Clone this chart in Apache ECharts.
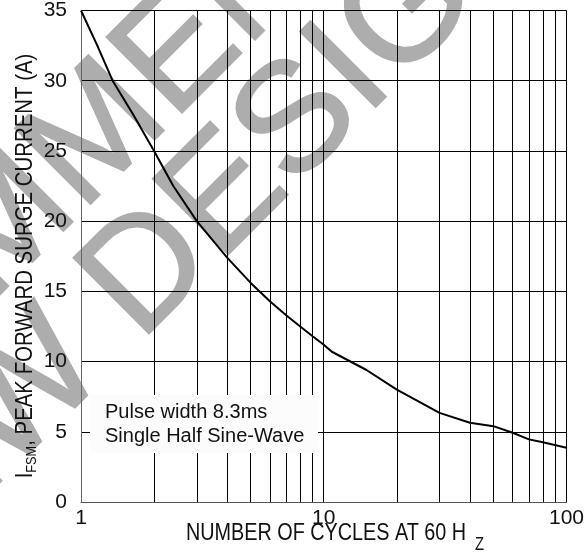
<!DOCTYPE html>
<html>
<head>
<meta charset="utf-8">
<script src="https://cdn.jsdelivr.net/npm/echarts@6/dist/echarts.min.js"></script>
<style>
  html, body { margin: 0; padding: 0; background: #fff; }
  #chart { width: 587px; height: 556px; }
</style>
</head>
<body>
<div id="chart"></div>
<script>
// 浪涌电流 - 周期数
var cycles = [1, 1.16, 1.35, 1.64, 2, 2.4, 3, 4, 5, 6, 7, 8, 9, 10, 10.8, 15, 20, 30, 40, 50, 60, 70, 80, 100]
var surgeCurrent = [35, 32.6, 30, 27.6, 25, 22.5, 20, 17.4, 15.6, 14.3, 13.3, 12.5, 11.8, 11.2, 10.7, 9.4, 8.0, 6.35, 5.64, 5.4, 4.93, 4.46, 4.25, 3.86]
var minorGridX = [2, 3, 4, 5, 6, 7, 8, 9, 20, 30, 40, 50, 60, 70, 80, 90]
var yTicks = { min: 0, max: 35, step: 5 }
var xRange = { min: 1, max: 100 }

var font = "'Liberation Sans', Arial, sans-serif"

function surgeChart () {
  var myChart = echarts.init(document.getElementById('chart'))
  var points = cycles.map(function (c, i) { return [c, surgeCurrent[i]] })
  var watermarkStyle = {
    fontSize: 155, fontFamily: font, fill: '#adadad', stroke: '#adadad', lineWidth: 2,
    align: 'center', verticalAlign: 'middle', textAlign: 'center', textVerticalAlign: 'middle'
  }
  var option = {
    animation: false,
    backgroundColor: '#fff',
    grid: { left: 81, right: 20, top: 10, bottom: 54 },
    xAxis: {
      type: 'log',
      logBase: 10,
      min: xRange.min,
      max: xRange.max,
      axisLine: { show: true, lineStyle: { color: '#555', width: 1 } },
      axisTick: { show: false },
      axisLabel: { margin: 6, color: '#111', fontSize: 21, fontFamily: font },
      splitLine: { show: true, lineStyle: { color: '#000', width: 1 } }
    },
    yAxis: {
      type: 'value',
      min: yTicks.min,
      max: yTicks.max,
      interval: yTicks.step,
      axisLine: { show: true, lineStyle: { color: '#666', width: 1 } },
      axisTick: { show: false },
      axisLabel: { margin: 14, color: '#111', fontSize: 21, fontFamily: font },
      splitLine: { show: true, lineStyle: { color: '#000', width: 1 } }
    },
    series: [
      {
        type: 'line',
        data: points,
        showSymbol: false,
        symbol: 'none',
        smooth: false,
        lineStyle: { color: '#000', width: 2 },
        silent: true,
        z: 5,
        markLine: {
          silent: true,
          symbol: ['none', 'none'],
          label: { show: false },
          lineStyle: { color: '#000', width: 1, type: 'solid' },
          emphasis: { disabled: true },
          data: minorGridX.map(function (v) { return { xAxis: v } })
        }
      }
    ],
    graphic: {
      elements: [
        // 水印
        {
          type: 'text', x: -46, y: 280, rotation: Math.PI / 4, z: -10, silent: true,
          style: Object.assign({ text: 'NOT RECOMMENDED' }, watermarkStyle)
        },
        {
          type: 'text', x: 46, y: 376, rotation: Math.PI / 4, z: -10, silent: true,
          style: Object.assign({ text: 'FOR NEW DESIGN' }, watermarkStyle)
        },
        // 说明框
        {
          type: 'rect', z: 100, silent: true,
          shape: { x: 90, y: 395, width: 228, height: 58 },
          style: { fill: '#fcfcfc' }
        },
        {
          type: 'text', x: 105, y: 412, z: 101, silent: true,
          style: { text: 'Pulse width 8.3ms', fontSize: 20, fontFamily: font, fill: '#111',
                   verticalAlign: 'middle', textVerticalAlign: 'middle' }
        },
        {
          type: 'text', x: 105, y: 436, z: 101, silent: true,
          style: { text: 'Single Half Sine-Wave', fontSize: 20, fontFamily: font, fill: '#111',
                   verticalAlign: 'middle', textVerticalAlign: 'middle' }
        },
        // 坐标轴标题（字体压窄）
        {
          type: 'text', x: 335, y: 533, scaleX: 0.825, z: 101, silent: true,
          style: {
            text: '{m|NUMBER OF CYCLES AT 60 H }{s|Z}',
            align: 'center', verticalAlign: 'middle', textAlign: 'center', textVerticalAlign: 'middle',
            rich: {
              m: { fontSize: 24, fontFamily: font, fill: '#111', color: '#111' },
              s: { fontSize: 18, fontFamily: font, fill: '#111', color: '#111', padding: [24, 0, 0, 4] }
            }
          }
        },
        {
          type: 'text', x: 25, y: 266, rotation: Math.PI / 2, scaleX: 0.85, z: 101, silent: true,
          style: {
            text: '{m|I}{s|FSM}{m|, PEAK FORWARD SURGE CURRENT (A)}',
            align: 'center', verticalAlign: 'middle', textAlign: 'center', textVerticalAlign: 'middle',
            rich: {
              m: { fontSize: 24, fontFamily: font, fill: '#111', color: '#111' },
              s: { fontSize: 15, fontFamily: font, fill: '#111', color: '#111', padding: [14, 0, 0, 0] }
            }
          }
        }
      ]
    }
  }
  myChart.setOption(option)
  window.addEventListener('resize', function () {
    myChart.resize()
  })
}

surgeChart()
</script>
</body>
</html>
